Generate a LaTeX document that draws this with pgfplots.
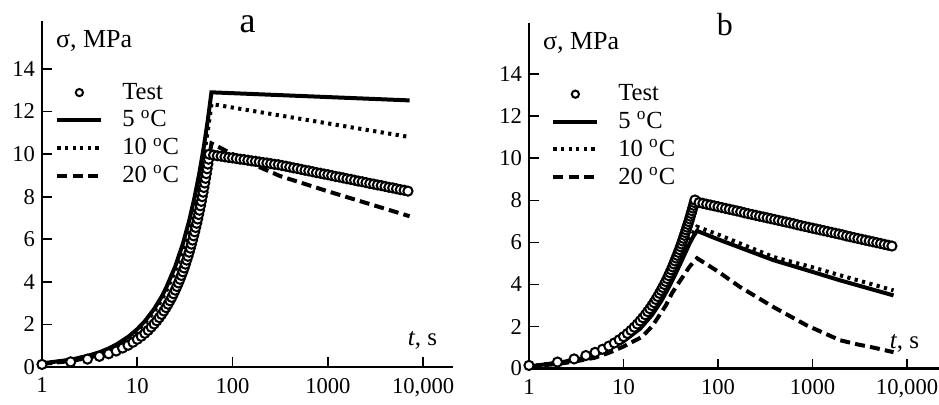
\documentclass[border=0pt]{standalone}
\usepackage{fontspec}
\setmainfont{Liberation Serif}
\usepackage{pgfplots}
\usepackage{pgfplotstable}
\pgfplotsset{compat=1.18}

% test data, panel a
\pgfplotstableread{
t s
1 0.12
2 0.24
3 0.37
4 0.50
5 0.62
6 0.75
7 0.89
8 1.02
9 1.16
10 1.30
11 1.44
12 1.58
13 1.72
14 1.87
15 2.02
16 2.17
17 2.32
18 2.47
19 2.63
20 2.79
21 2.95
22 3.11
23 3.27
24 3.44
25 3.61
26 3.78
27 3.95
28 4.12
29 4.30
30 4.47
31 4.65
32 4.83
33 5.02
34 5.20
35 5.39
36 5.58
37 5.77
38 5.96
39 6.16
40 6.35
41 6.55
42 6.75
43 6.95
44 7.16
45 7.36
46 7.57
47 7.78
48 8.00
49 8.21
50 8.43
51 8.64
52 8.86
53 9.08
54 9.31
55 9.53
56 9.76
57 9.99
63.1 9.95
69.2 9.92
75.9 9.90
83.2 9.87
91.2 9.84
100 9.82
109.6 9.79
120.2 9.76
131.8 9.74
144.5 9.71
158.5 9.68
173.8 9.66
190.5 9.63
208.9 9.60
229.1 9.58
251.2 9.55
275.4 9.52
302 9.50
331.1 9.46
363.1 9.43
398.1 9.39
436.5 9.35
478.6 9.32
524.8 9.28
575.4 9.24
631 9.21
691.8 9.17
758.6 9.13
831.8 9.10
912 9.06
1000 9.03
1096 8.99
1202 8.95
1318 8.92
1445 8.88
1585 8.84
1738 8.81
1905 8.77
2089 8.73
2291 8.70
2512 8.66
2754 8.62
3020 8.59
3311 8.55
3631 8.52
3981 8.48
4365 8.44
4786 8.41
5248 8.37
5754 8.33
6310 8.30
6918 8.26
}\testA

% test data, panel b
\pgfplotstableread{
t s
1 0.15
2 0.31
3 0.46
4 0.62
5 0.77
6 0.92
7 1.07
8 1.22
9 1.37
10 1.52
11 1.67
12 1.82
13 1.97
14 2.12
15 2.27
16 2.42
17 2.56
18 2.71
19 2.85
20 3.00
21 3.14
22 3.29
23 3.43
24 3.58
25 3.72
26 3.86
27 4.00
28 4.14
29 4.28
30 4.42
31 4.56
32 4.70
33 4.84
34 4.98
35 5.12
36 5.26
37 5.39
38 5.53
39 5.66
40 5.80
41 5.93
42 6.07
43 6.20
44 6.34
45 6.47
46 6.60
47 6.73
48 6.86
49 6.99
50 7.12
51 7.25
52 7.38
53 7.51
54 7.64
55 7.77
56 7.90
57 8.02
63.1 7.90
69.2 7.86
75.9 7.82
83.2 7.78
91.2 7.74
100 7.70
109.6 7.66
120.2 7.62
131.8 7.58
144.5 7.54
158.5 7.50
173.8 7.46
190.5 7.41
208.9 7.37
229.1 7.33
251.2 7.29
275.4 7.25
302 7.21
331.1 7.17
363.1 7.13
398.1 7.09
436.5 7.05
478.6 7.01
524.8 6.97
575.4 6.93
631 6.89
691.8 6.84
758.6 6.80
831.8 6.76
912 6.72
1000 6.68
1096 6.64
1202 6.60
1318 6.56
1445 6.52
1585 6.48
1738 6.44
1905 6.40
2089 6.36
2291 6.31
2512 6.27
2754 6.23
3020 6.19
3311 6.15
3631 6.11
3981 6.07
4365 6.03
4786 5.99
5248 5.95
5754 5.91
6310 5.87
6918 5.83
}\testB

\tikzset{
  model/.style={black, line width=2pt},
  c5/.style={model, solid},
  c10/.style={model, dash pattern=on 1.6pt off 2.2pt},
  c20/.style={model, dash pattern=on 5pt off 2.6pt},
}

\begin{document}
\begin{tikzpicture}
\path[use as bounding box] (0,0) rectangle (469.5pt,202.5pt);

% ---- panel a
\begin{axis}[
  at={(21pt,19pt)}, anchor=south west,
  scale only axis, width=205.5pt, height=173pt,
  xmode=log, xmin=1, xmax=20550, ymin=0, ymax=16.25,
  axis x line*=bottom, axis y line*=left,
  axis line style={line width=1.3pt},
  tick align=inside, major tick length=5pt,
  every tick/.style={black, line width=0.9pt},
  xtick={1,10,100,1000,10000},
  xticklabels={1,10,100,1000,{10,000}},
  xminorticks=false,
  ytick={0,2,...,14},
  /pgf/number format/assume math mode=true,
  ticklabel style={font=\fontsize{11.3}{13}\selectfont},
  xticklabel style={yshift=-2pt},
  clip=false,
  title={a},
  title style={at={(rel axis cs:0.5,0.974)}, anchor=base, yshift=-7.5pt, font=\fontsize{18}{20}\selectfont},
  ylabel={σ, MPa},
  ylabel style={rotate=-90, at={(rel axis cs:0.017,0.942)}, anchor=west, font=\fontsize{13}{15}\selectfont},
  xlabel={\textit{t}, s},
  xlabel style={at={(rel axis cs:0.873,0.078)}, anchor=west, font=\fontsize{12.5}{14}\selectfont},
  legend cell align=left,
  legend image code/.code={\draw[mark repeat=2,mark phase=2,#1] plot coordinates {(0pt,0pt) (11pt,0pt) (22pt,0pt)};},
  legend style={draw=none, fill=none, at={(0.017,0.845)}, anchor=north west,
    font=\fontsize{12.3}{14}\selectfont,
    /tikz/every odd column/.append style={column sep=7.5pt}},
]
\addlegendimage{only marks, mark=*, mark size=1.8pt, mark options={fill=white, draw=black, line width=1pt}}
\addlegendentry{Test}
\addplot[c5, no markers] coordinates {(1,0.17) (2,0.34) (3,0.52) (4,0.69) (5,0.87) (6,1.05) (8,1.41) (10,1.78) (12,2.15) (15,2.72) (18,3.30) (20,3.70) (25,4.72) (30,5.77) (35,6.86) (40,7.99) (45,9.16) (50,10.37) (55,11.61) (60,12.9) (7200,12.52)};
\addlegendentry{5 \textsuperscript{o}C}
\addplot[c10, no markers] coordinates {(1,0.16) (2,0.33) (3,0.50) (4,0.66) (5,0.83) (6,1.00) (8,1.35) (10,1.70) (12,2.06) (15,2.60) (18,3.16) (20,3.54) (25,4.51) (30,5.52) (35,6.57) (40,7.65) (45,8.77) (50,9.92) (55,11.11) (60,12.35) (7200,10.8)};
\addlegendentry{10 \textsuperscript{o}C}
\addplot[c20, no markers] coordinates {(1,0.14) (2,0.28) (3,0.42) (4,0.56) (5,0.71) (6,0.85) (8,1.15) (10,1.45) (12,1.75) (15,2.21) (18,2.69) (20,3.01) (25,3.84) (30,4.70) (35,5.59) (40,6.51) (45,7.46) (50,8.44) (55,9.45) (60,10.5) (100,10.0) (200,9.35) (314,8.97) (1000,8.25) (3000,7.6) (7200,7.08)};
\addlegendentry{20 \textsuperscript{o}C}
\addplot[only marks, mark=*, mark size=2.3pt, mark options={fill=white, draw=black, line width=1pt}, forget plot] table[x=t, y=s] {\testA};
\end{axis}

% ---- panel b
\begin{axis}[
  at={(264.5pt,18.2pt)}, anchor=south west,
  scale only axis, width=205pt, height=173pt,
  xmode=log, xmin=1, xmax=21800, ymin=0, ymax=16.46,
  axis x line*=bottom, axis y line*=left,
  axis line style={line width=1.3pt},
  tick align=inside, major tick length=5pt,
  every tick/.style={black, line width=0.9pt},
  xtick={1,10,100,1000,10000},
  xticklabels={1,10,100,1000,{10,000}},
  xminorticks=false,
  ytick={0,2,...,14},
  /pgf/number format/assume math mode=true,
  ticklabel style={font=\fontsize{11.3}{13}\selectfont},
  xticklabel style={yshift=-2pt},
  clip=false,
  title={b},
  title style={at={(rel axis cs:0.478,0.962)}, anchor=base, yshift=-6pt, font=\fontsize{16}{18}\selectfont},
  ylabel={σ, MPa},
  ylabel style={rotate=-90, at={(rel axis cs:0.017,0.942)}, anchor=west, font=\fontsize{13}{15}\selectfont},
  xlabel={\textit{t}, s},
  xlabel style={at={(rel axis cs:0.863,0.072)}, anchor=west, font=\fontsize{12.5}{14}\selectfont},
  legend cell align=left,
  legend image code/.code={\draw[mark repeat=2,mark phase=2,#1] plot coordinates {(0pt,0pt) (11pt,0pt) (22pt,0pt)};},
  legend style={draw=none, fill=none, at={(0.039,0.845)}, anchor=north west,
    font=\fontsize{12.3}{14}\selectfont,
    /tikz/every odd column/.append style={column sep=7.5pt}},
]
\addlegendimage{only marks, mark=*, mark size=1.8pt, mark options={fill=white, draw=black, line width=1pt}}
\addlegendentry{Test}
\addplot[c5, no markers] coordinates {(1,0.1) (2,0.28) (3,0.4) (5,0.65) (7,0.92) (10,1.3) (15,1.9) (20,2.55) (25,3.2) (30,3.85) (35,4.45) (40,5.0) (45,5.5) (50,5.95) (55,6.3) (60,6.55) (100,6.15) (385,5.16) (1000,4.6) (1950,4.2) (7200,3.48)};
\addlegendentry{5 \textsuperscript{o}C}
\addplot[c10, no markers] coordinates {(1,0.1) (2,0.29) (3,0.41) (5,0.67) (7,0.95) (10,1.34) (15,1.96) (20,2.63) (25,3.3) (30,3.97) (35,4.58) (40,5.15) (45,5.67) (50,6.13) (55,6.49) (60,6.75) (100,6.38) (385,5.31) (1000,4.82) (1950,4.44) (7200,3.72)};
\addlegendentry{10 \textsuperscript{o}C}
\addplot[c20, no markers] coordinates {(1,0.1) (2,0.22) (3,0.33) (5,0.52) (7,0.75) (10,1.05) (15.6,1.5) (20,2.0) (23.4,2.46) (28,3.0) (32.4,3.57) (38,4.05) (44.7,4.52) (50,4.85) (57.5,5.16) (60,5.25) (100,4.62) (170,3.89) (385,2.93) (865,2.06) (1950,1.35) (3000,1.15) (4400,1.0) (7200,0.78)};
\addlegendentry{20 \textsuperscript{o}C}
\addplot[only marks, mark=*, mark size=2.3pt, mark options={fill=white, draw=black, line width=1pt}, forget plot] table[x=t, y=s] {\testB};
\end{axis}
\end{tikzpicture}
\end{document}
